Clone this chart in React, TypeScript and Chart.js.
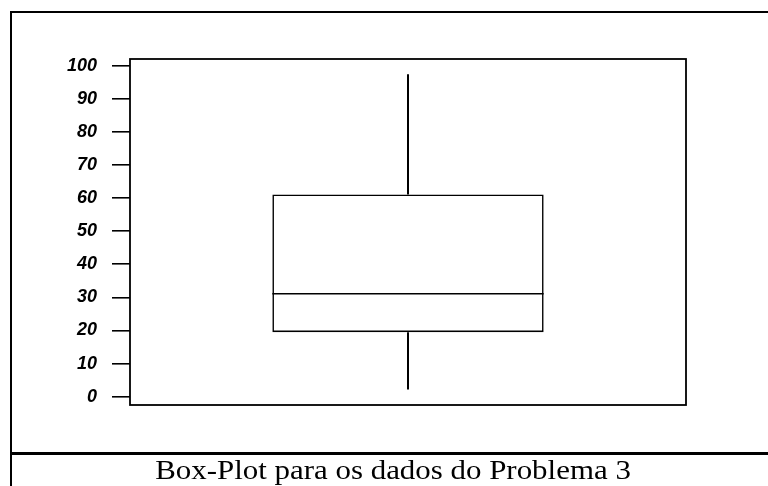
import React, { useEffect, useRef } from "react";
import { Chart, registerables } from "chart.js";

Chart.register(...registerables);

const categories = ["Problema 3"];
const quartile1 = [19.5];
const medians = [31.1];
const quartile3 = [61.1];
const whiskerMin = [2.2];
const whiskerMax = [97.4];
const yTickValues = [0, 10, 20, 30, 40, 50, 60, 70, 80, 90, 100];
const caption = "Box-Plot para os dados do Problema 3";

const boxPlotPlugin = {
  id: "boxPlotExtras",
  afterDatasetsDraw(chart: any) {
    const { ctx, chartArea, scales } = chart;
    const y = scales.y;
    const meta = chart.getDatasetMeta(0);
    ctx.save();
    ctx.strokeStyle = "#000";
    meta.data.forEach((bar: any, i: number) => {
      const half = bar.width / 2;
      ctx.lineWidth = 1.6;
      const ym = y.getPixelForValue(medians[i]);
      ctx.beginPath();
      ctx.moveTo(bar.x - half, ym);
      ctx.lineTo(bar.x + half, ym);
      ctx.stroke();
      ctx.lineWidth = 2;
      ctx.beginPath();
      ctx.moveTo(bar.x, y.getPixelForValue(quartile3[i]));
      ctx.lineTo(bar.x, y.getPixelForValue(whiskerMax[i]));
      ctx.moveTo(bar.x, y.getPixelForValue(quartile1[i]));
      ctx.lineTo(bar.x, y.getPixelForValue(whiskerMin[i]));
      ctx.stroke();
    });
    ctx.lineWidth = 1.8;
    ctx.strokeRect(
      chartArea.left,
      chartArea.top,
      chartArea.right - chartArea.left,
      chartArea.bottom - chartArea.top
    );
    ctx.restore();
  },
};

export default function App() {
  const canvasRef = useRef<HTMLCanvasElement | null>(null);

  useEffect(() => {
    if (!canvasRef.current) return;
    const chart = new Chart(canvasRef.current, {
      type: "bar",
      data: {
        labels: categories,
        datasets: [
          {
            data: categories.map((_, i) => [quartile1[i], quartile3[i]]) as any,
            backgroundColor: "rgba(255,255,255,0)",
            borderColor: "#000",
            borderWidth: 1.6,
            borderSkipped: false,
            barPercentage: 0.488,
            categoryPercentage: 1,
          },
        ],
      },
      options: {
        animation: false,
        responsive: true,
        maintainAspectRatio: false,
        layout: { padding: { top: 59, right: 82, bottom: 81, left: 0 } },
        plugins: {
          legend: { display: false },
          tooltip: { enabled: false },
          title: { display: false },
        },
        scales: {
          x: { display: false },
          y: {
            min: -2.51,
            max: 102.02,
            afterBuildTicks: (scale: any) => {
              scale.ticks = yTickValues.map((v) => ({ value: v }));
            },
            afterFit: (scale: any) => {
              scale.width = 130;
            },
            border: { display: false },
            grid: {
              drawOnChartArea: false,
              drawTicks: true,
              tickLength: 18,
              color: "#000",
              lineWidth: 1.6,
            },
            ticks: {
              padding: 15,
              color: "#000",
              font: {
                family: "'Liberation Sans', Arial, sans-serif",
                size: 18,
                weight: "bold",
                style: "italic",
              },
              callback: (v: any) => String(v),
            },
          },
        },
      },
      plugins: [boxPlotPlugin],
    });
    return () => chart.destroy();
  }, []);

  return (
    <div
      style={{
        position: "fixed",
        left: 0,
        top: 0,
        width: 768,
        height: 486,
        background: "#fff",
        overflow: "hidden",
      }}
    >
      <div style={{ position: "absolute", left: 0, top: 0, width: 768, height: 486 }}>
        <canvas ref={canvasRef} />
      </div>
      <div style={{ position: "absolute", left: 10, top: 11, width: 758, height: 2, background: "#000" }} />
      <div style={{ position: "absolute", left: 10, top: 11, width: 2, height: 475, background: "#000" }} />
      <div style={{ position: "absolute", left: 10, top: 452, width: 758, height: 2.5, background: "#000" }} />
      <div
        style={{
          position: "absolute",
          left: 0,
          top: 457,
          width: 786,
          textAlign: "center",
          fontFamily: "'Liberation Serif', 'Times New Roman', serif",
          fontSize: 27,
          lineHeight: "27px",
          color: "#000",
          whiteSpace: "nowrap",
          transform: "scaleX(1.145)",
          transformOrigin: "393px 0",
        }}
      >
        {caption}
      </div>
    </div>
  );
}
